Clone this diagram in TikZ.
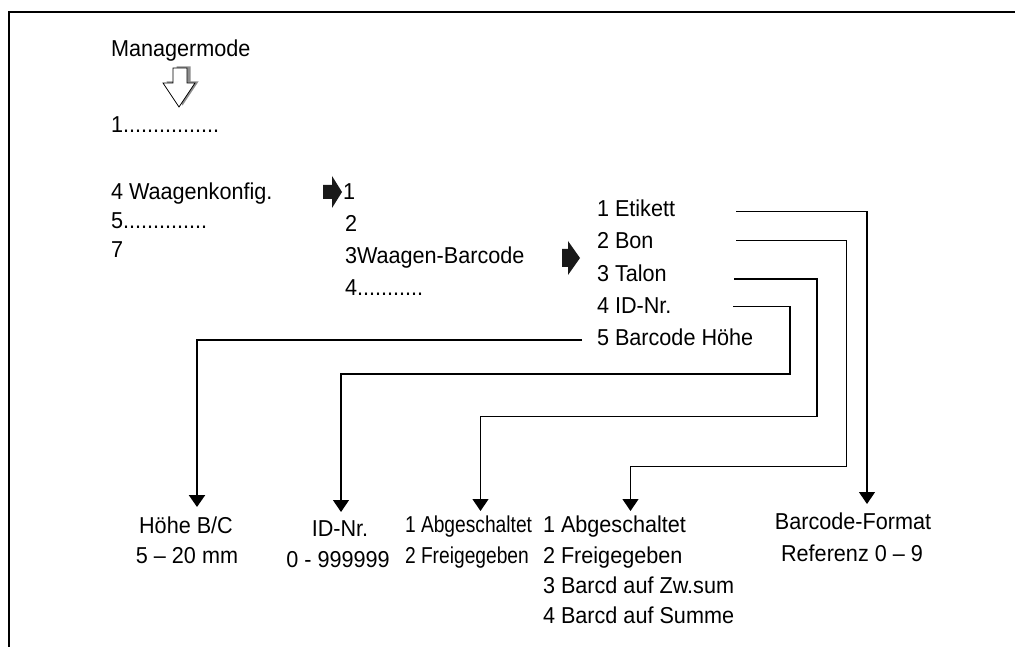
\documentclass[tikz,border=0pt]{standalone}
\usepackage{fontspec}
\setmainfont[FakeStretch=0.94]{Liberation Sans}
\newfontfamily\narrowfont[FakeStretch=0.835]{Liberation Sans}
\usetikzlibrary{arrows.meta}
\tikzset{
  txt/.style={inner sep=0pt, outer sep=0pt, anchor=base west, font=\fontsize{23}{30}\selectfont},
  conn/.style={line width=1.3pt, -{Triangle[width=16pt,length=12pt]}},
  thickconn/.style={line width=2.3pt, -{Triangle[width=16pt,length=12pt]}},
  frame/.style={line width=2pt},
  blk/.style={fill=black!90, draw=none},
}
\begin{document}
\begin{tikzpicture}[x=1pt,y=-1pt]
\useasboundingbox (0,0) rectangle (1015,647);
\draw[frame] (9,647) -- (9,12) -- (1015,12);

% left column
\node[txt] (mm) at (111,57) {Managermode};
% hollow arrow with shadow
\fill[black!45, shift={(3.5,-1.5)}] (173,68) -- (187,68) -- (187,83) -- (195,83) -- (179,107) -- (163,83) -- (173,83) -- cycle;
\draw[fill=white, line width=0.8pt] (173,68) -- (187,68) -- (187,83) -- (195,83) -- (179,107) -- (163,83) -- (173,83) -- cycle;
\node[txt] (m1) at (111,133) {1................};
\node[txt] (m4) at (111,200) {4 Waagenkonfig.};
\node[txt] (m5) at (111,229) {5..............};
\node[txt] (m7) at (111,258) {7};

% black arrow 1
\fill[blk] (323,185) -- (332,185) -- (332,176) -- (342,192) -- (332,208) -- (332,199) -- (323,199) -- cycle;
\node[txt] (s1) at (343,200) {1};
\node[txt] (s2) at (345,232) {2};
\node[txt] (s3) at (345,264) {3Waagen-Barcode};
\node[txt] (s4) at (345,295) {4...........};

% black arrow 2
\fill[blk] (562,249) -- (568,249) -- (568,241) -- (580,258) -- (568,275) -- (568,267) -- (562,267) -- cycle;
\node[txt] (e1) at (597,217) {1 Etikett};
\node[txt] (e2) at (597,249) {2 Bon};
\node[txt] (e3) at (597,281) {3 Talon};
\node[txt] (e4) at (597,313) {4 ID-Nr.};
\node[txt] (e5) at (597,345) {5 Barcode Höhe};

% targets
\node[txt, anchor=base] (hoehe) at (186,533) {Höhe B/C};
\node[txt, anchor=base] (hoehe2) at (187,563) {5 – 20 mm};
\node[txt, anchor=base] (idnr) at (340,536) {ID-Nr.};
\node[txt, anchor=base] (idnr2) at (338,567) {0 - 999999};
\node[txt] (ab1) at (405,532) {\narrowfont 1 Abgeschaltet};
\node[txt] (ab2) at (405,563) {\narrowfont 2 Freigegeben};
\node[txt] (bb1) at (543,532) {1 Abgeschaltet};
\node[txt] (bb2) at (543,563) {2 Freigegeben};
\node[txt] (bb3) at (543,593) {3 Barcd auf Zw.sum};
\node[txt] (bb4) at (543,623) {4 Barcd auf Summe};
\node[txt, anchor=base] (bf1) at (853,529) {Barcode-Format};
\node[txt, anchor=base] (bf2) at (852,561) {Referenz 0 – 9};

% connector coordinates
\coordinate (c1s) at (736,211.5);
\coordinate (c1e) at (867,504);
\coordinate (c2s) at (736,240.5);
\coordinate (c2a) at (846.5,466.5);
\coordinate (c2e) at (630.5,511);
\coordinate (c3s) at (734,279);
\coordinate (c3a) at (817,416.5);
\coordinate (c3e) at (480.5,511);
\coordinate (c4s) at (733,306.5);
\coordinate (c4a) at (790,374);
\coordinate (c4e) at (341,512);
\coordinate (c5s) at (582,340);
\coordinate (c5e) at (197,507);

\draw[conn] (c1s) -| (c1e);
\draw[conn] (c2s) -| (c2a) -| (c2e);
\draw[conn] (c3s) -| (c3a) -| (c3e);
\draw[conn] (c4s) -| (c4a) -| (c4e);
\draw[thickconn] (c5s) -| (c5e);
\end{tikzpicture}
\end{document}
